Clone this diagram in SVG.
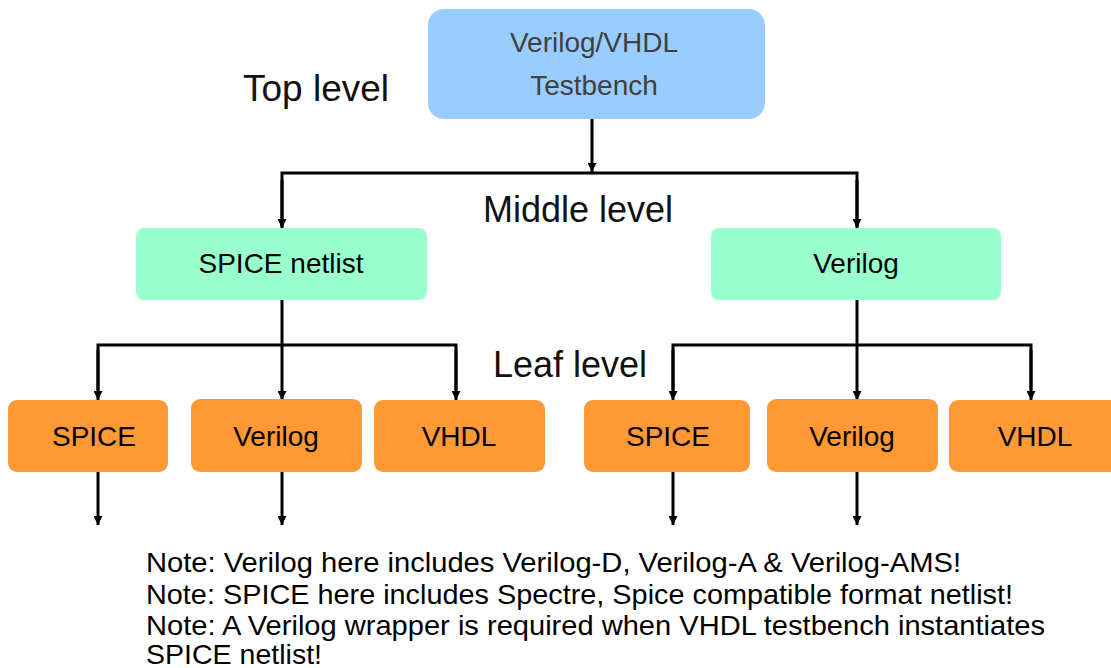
<svg xmlns="http://www.w3.org/2000/svg" width="1111" height="668" viewBox="0 0 1111 668">
  <style>
    .box-top { fill: #99CCFF; }
    .box-mid { fill: #99FFCC; }
    .box-leaf { fill: #FF9933; }
    .label { font-family: "Liberation Sans", Arial, sans-serif; font-size: 28px; text-anchor: middle; fill: #000; }
    .label-top { fill: #404040; }
    .level { font-family: "Liberation Sans", Arial, sans-serif; font-size: 36px; fill: #111; }
    .note { font-family: "Liberation Sans", Arial, sans-serif; font-size: 28px; fill: #000; }
    .wire { fill: none; stroke: #000; stroke-width: 3; }
  </style>
  <defs>
    <marker id="arrow" viewBox="0 0 10 10" refX="10" refY="5" markerWidth="10" markerHeight="9" markerUnits="userSpaceOnUse" orient="auto">
      <path d="M0,0 L10,5 L0,10 Z" fill="#000"/>
    </marker>
  </defs>
  <rect width="1111" height="668" fill="#fff"/>

  <!-- level captions -->
  <text class="level" x="243" y="101" textLength="146" lengthAdjust="spacingAndGlyphs">Top level</text>
  <text class="level" x="483" y="222">Middle level</text>
  <text class="level" x="493" y="377">Leaf level</text>

  <!-- connectors -->
  <g id="connectors">
    <line class="wire" x1="592" y1="119" x2="592" y2="172" marker-end="url(#arrow)"/>
    <polyline class="wire" points="282,227 282,173 857,173 857,227"/>
    <line class="wire" x1="282" y1="180" x2="282" y2="228" marker-end="url(#arrow)"/>
    <line class="wire" x1="857" y1="180" x2="857" y2="228" marker-end="url(#arrow)"/>

    <line class="wire" x1="282" y1="300" x2="282" y2="400" marker-end="url(#arrow)"/>
    <polyline class="wire" points="98,390 98,345 456,345 456,390"/>
    <line class="wire" x1="98" y1="350" x2="98" y2="400" marker-end="url(#arrow)"/>
    <line class="wire" x1="456" y1="350" x2="456" y2="400" marker-end="url(#arrow)"/>

    <line class="wire" x1="857" y1="300" x2="857" y2="400" marker-end="url(#arrow)"/>
    <polyline class="wire" points="673,390 673,345 1031,345 1031,390"/>
    <line class="wire" x1="673" y1="350" x2="673" y2="400" marker-end="url(#arrow)"/>
    <line class="wire" x1="1031" y1="350" x2="1031" y2="400" marker-end="url(#arrow)"/>

    <line class="wire" x1="98" y1="472" x2="98" y2="525" marker-end="url(#arrow)"/>
    <line class="wire" x1="282" y1="472" x2="282" y2="525" marker-end="url(#arrow)"/>
    <line class="wire" x1="673" y1="472" x2="673" y2="525" marker-end="url(#arrow)"/>
    <line class="wire" x1="857" y1="472" x2="857" y2="525" marker-end="url(#arrow)"/>
  </g>

  <!-- top level -->
  <g id="testbench">
    <rect class="box-top" x="428" y="9" width="337" height="110" rx="16"/>
    <text class="label label-top" x="594" y="52">Verilog/VHDL</text>
    <text class="label label-top" x="594" y="95">Testbench</text>
  </g>

  <!-- middle level -->
  <g id="mid-spice">
    <rect class="box-mid" x="136" y="228" width="291" height="72" rx="8"/>
    <text class="label" x="281" y="273">SPICE netlist</text>
  </g>
  <g id="mid-verilog">
    <rect class="box-mid" x="711" y="228" width="290" height="72" rx="8"/>
    <text class="label" x="856" y="273">Verilog</text>
  </g>

  <!-- leaf level, left -->
  <g id="leaf-l-spice">
    <rect class="box-leaf" x="8" y="400" width="160" height="72" rx="9"/>
    <text class="label" x="94" y="446">SPICE</text>
  </g>
  <g id="leaf-l-verilog">
    <rect class="box-leaf" x="191" y="399" width="171" height="73" rx="9"/>
    <text class="label" x="276" y="446">Verilog</text>
  </g>
  <g id="leaf-l-vhdl">
    <rect class="box-leaf" x="374" y="400" width="171" height="72" rx="9"/>
    <text class="label" x="459" y="446">VHDL</text>
  </g>

  <!-- leaf level, right -->
  <g id="leaf-r-spice">
    <rect class="box-leaf" x="584" y="400" width="166" height="72" rx="9"/>
    <text class="label" x="668" y="446">SPICE</text>
  </g>
  <g id="leaf-r-verilog">
    <rect class="box-leaf" x="767" y="399" width="171" height="73" rx="9"/>
    <text class="label" x="852" y="446">Verilog</text>
  </g>
  <g id="leaf-r-vhdl">
    <rect class="box-leaf" x="949" y="400" width="175" height="72" rx="9"/>
    <text class="label" x="1035" y="446">VHDL</text>
  </g>

  <!-- notes -->
  <g id="notes">
    <text class="note" x="146" y="572" textLength="815" lengthAdjust="spacingAndGlyphs">Note: Verilog here includes Verilog-D, Verilog-A &amp; Verilog-AMS!</text>
    <text class="note" x="146" y="604" textLength="867" lengthAdjust="spacingAndGlyphs">Note: SPICE here includes Spectre, Spice compatible format netlist!</text>
    <text class="note" x="146" y="635" textLength="899" lengthAdjust="spacingAndGlyphs">Note: A Verilog wrapper is required when VHDL testbench instantiates</text>
    <text class="note" x="146" y="664" textLength="176" lengthAdjust="spacingAndGlyphs">SPICE netlist!</text>
  </g>
</svg>
